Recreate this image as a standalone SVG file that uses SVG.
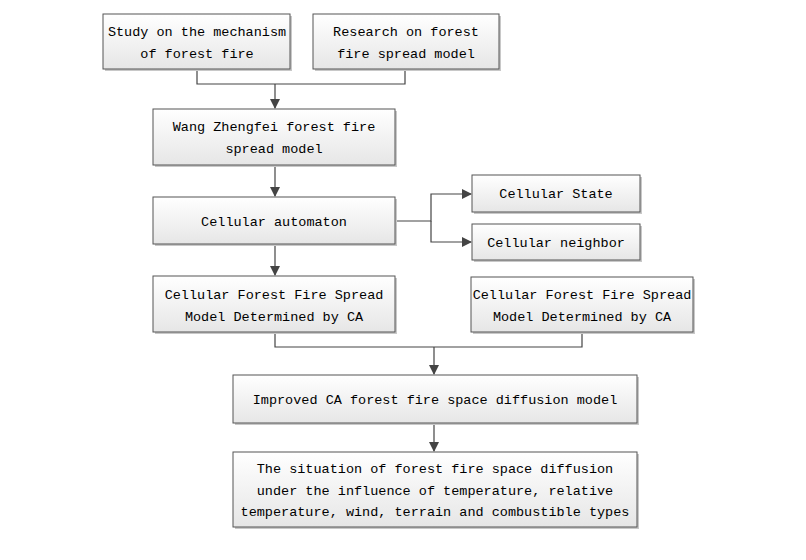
<svg xmlns="http://www.w3.org/2000/svg" width="806" height="560" viewBox="0 0 806 560">
<style>
.box{fill:url(#g);stroke:#555;stroke-width:1}
.sh{fill:#c8c8c8}
.t{font-family:"Liberation Mono",monospace;font-size:13.5px;fill:#000;text-anchor:middle}
.c{fill:none;stroke:#444;stroke-width:1.2}
</style>
<defs>
<linearGradient id="g" x1="0" y1="0" x2="0" y2="1">
<stop offset="0" stop-color="#ffffff"/>
<stop offset="1" stop-color="#e6e6e6"/>
</linearGradient>
<marker id="a" markerWidth="10" markerHeight="10" refX="9" refY="5" orient="auto" markerUnits="userSpaceOnUse">
<path d="M0,0 L10,5 L0,10 z" fill="#444"/>
</marker>
</defs>
<rect width="806" height="560" fill="#fff"/>
<g id="connectors">
<path class="c" d="M197,70 V84 H405 V70"/>
<path class="c" d="M275,84 V108" marker-end="url(#a)"/>
<path class="c" d="M275,166 V196" marker-end="url(#a)"/>
<path class="c" d="M395,221 H431 V194 H471" marker-end="url(#a)"/>
<path class="c" d="M431,221 V242 H471" marker-end="url(#a)"/>
<path class="c" d="M275,245 V275" marker-end="url(#a)"/>
<path class="c" d="M275,333 V347 H582 V333"/>
<path class="c" d="M434,347 V374" marker-end="url(#a)"/>
<path class="c" d="M434,424 V451" marker-end="url(#a)"/>
</g>
<g id="n1"><rect class="sh" x="105" y="16" width="187" height="55"/><rect class="box" x="103" y="14" width="187" height="55"/>
<text class="t" x="197" y="36">Study on the mechanism</text><text class="t" x="197" y="58">of forest fire</text></g>
<g id="n2"><rect class="sh" x="315" y="16" width="186" height="55"/><rect class="box" x="313" y="14" width="186" height="55"/>
<text class="t" x="406" y="36">Research on forest</text><text class="t" x="406" y="58">fire spread model</text></g>
<g id="n3"><rect class="sh" x="155" y="111" width="242" height="56"/><rect class="box" x="153" y="109" width="242" height="56"/>
<text class="t" x="274" y="131">Wang Zhengfei forest fire</text><text class="t" x="274" y="153">spread model</text></g>
<g id="n4"><rect class="sh" x="155" y="199" width="242" height="47"/><rect class="box" x="153" y="197" width="242" height="47"/>
<text class="t" x="274" y="226">Cellular automaton</text></g>
<g id="n5"><rect class="sh" x="474" y="177" width="168" height="37"/><rect class="box" x="472" y="175" width="168" height="37"/>
<text class="t" x="556" y="198">Cellular State</text></g>
<g id="n6"><rect class="sh" x="474" y="226" width="168" height="36"/><rect class="box" x="472" y="224" width="168" height="36"/>
<text class="t" x="556" y="247">Cellular neighbor</text></g>
<g id="n7"><rect class="sh" x="155" y="278" width="242" height="56"/><rect class="box" x="153" y="276" width="242" height="56"/>
<text class="t" x="274" y="299">Cellular Forest Fire Spread</text><text class="t" x="274" y="321">Model Determined by CA</text></g>
<g id="n8"><rect class="sh" x="473" y="279" width="222" height="55"/><rect class="box" x="471" y="277" width="222" height="55"/>
<text class="t" x="582" y="299">Cellular Forest Fire Spread</text><text class="t" x="582" y="321">Model Determined by CA</text></g>
<g id="n9"><rect class="sh" x="235" y="377" width="404" height="48"/><rect class="box" x="233" y="375" width="404" height="48"/>
<text class="t" x="435" y="404">Improved CA forest fire space diffusion model</text></g>
<g id="n10"><rect class="sh" x="235" y="454" width="404" height="75"/><rect class="box" x="233" y="452" width="404" height="75"/>
<text class="t" x="435" y="473">The situation of forest fire space diffusion</text><text class="t" x="435" y="495">under the influence of temperature, relative</text><text class="t" x="435" y="516">temperature, wind, terrain and combustible types</text></g>
</svg>
